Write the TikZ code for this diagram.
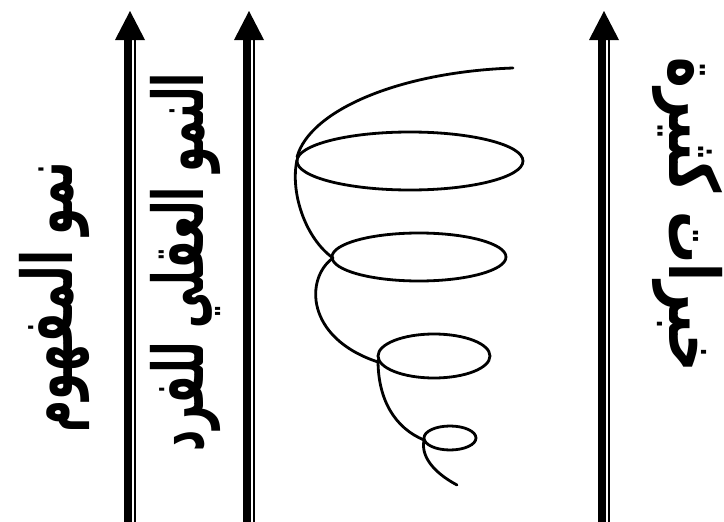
\documentclass[tikz,border=0pt]{standalone}
\usepackage{fontspec}
\usetikzlibrary{calc}
\newfontfamily\arabicfont[Script=Arabic]{DejaVu Sans}
\TeXXeTstate=1
\begin{document}
\begin{tikzpicture}[x=1pt,y=-1pt,
  lbl/.style={inner sep=0pt,font=\arabicfont\bfseries\fontsize{40}{48}\selectfont},
  spiral/.style={line width=2.8pt,line cap=round,line join=round}]
\useasboundingbox (0,0) rectangle (724,522);
% arrows
\foreach \c/\n in {130/a,249/b,604/c}{
  \coordinate (\n-tip) at (\c,11);
  \coordinate (\n-base) at (\c,522);
  \fill ($(\n-base)+(-6,0)$) rectangle ($(\n-tip)+(2,29)$);
  \fill ($(\n-base)+(3.6,0)$) rectangle ($(\n-tip)+(5.6,29)$);
  \fill (\n-tip) -- ++(-15,29) -- ++(30,0) -- cycle;
}
% labels
\node[lbl,rotate=90,xscale=1.1,yscale=1.75] (t1) at (54,297) {\beginR نمو المفهوم\endR};
\node[lbl,rotate=90,xscale=1.03,yscale=1.75] (t2) at (185,262) {\beginR النمو العقلي للفرد\endR};
\node[lbl,rotate=-90,xscale=1.3,yscale=1.75] (t3) at (688,215) {\beginR خبرات كثيرة\endR};
% spiral
\draw[spiral] (513,68) .. controls (400,72) and (310,110) .. (297,157);
\draw[spiral] (410,161) ellipse [x radius=113, y radius=29];
\draw[spiral] (297,160) .. controls (290,192) and (305,238) .. (333,258);
\draw[spiral] (419,257) ellipse [x radius=87, y radius=24];
\draw[spiral] (333,258) .. controls (305,278) and (305,338) .. (378,362);
\draw[spiral] (434,356) ellipse [x radius=56, y radius=22];
\draw[spiral] (378,360) .. controls (378,400) and (395,428) .. (424,440);
\draw[spiral] (450,438) ellipse [x radius=26, y radius=12];
\draw[spiral] (424,440) .. controls (420,460) and (440,476) .. (457,485);
\end{tikzpicture}
\end{document}
